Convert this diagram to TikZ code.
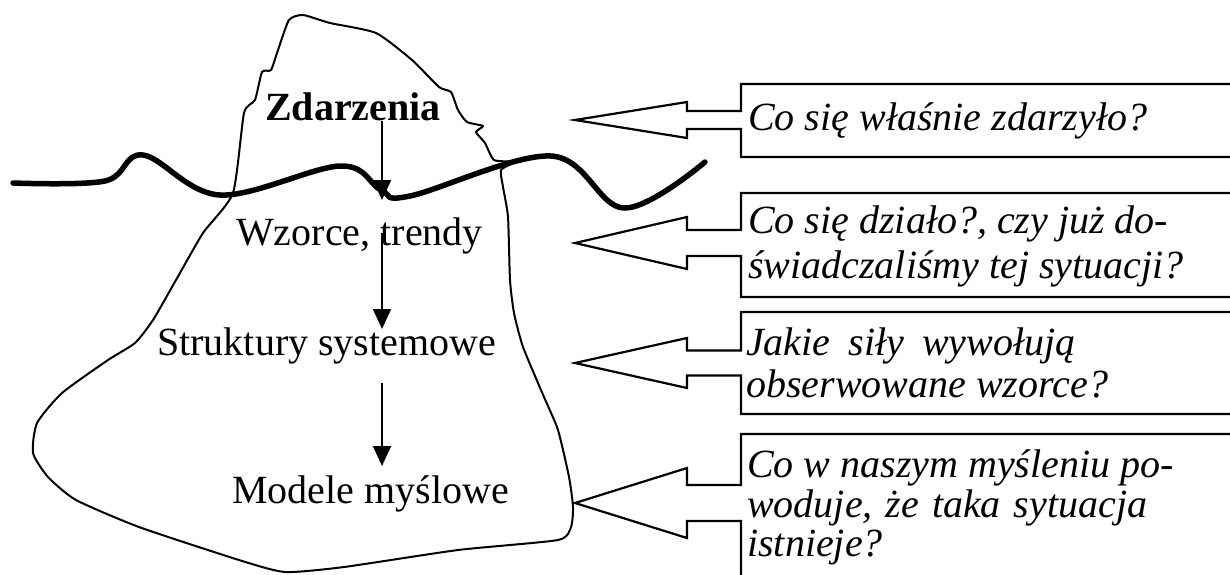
\documentclass[tikz,border=0pt]{standalone}
\usepackage{fontspec}
\setmainfont{Liberation Serif}
\usetikzlibrary{arrows.meta}

% Callout box with a hollow arrow pointing left.
% #1 tip name, #2 tip y, #3 head half-height, #4 shaft half-height, #5 box top, #6 box bottom
\newcommand\questionbox[6]{%
  \coordinate (#1) at (575,#2);
  \draw[callout] (1250,#5) -- (741,#5) -- (741,{#2-#4}) -- (687,{#2-#4})
    -- (687,{#2-#3}) -- (#1) -- (687,{#2+#3}) -- (687,{#2+#4})
    -- (741,{#2+#4}) -- (741,#6) -- (1250,#6);
}

\begin{document}
\begin{tikzpicture}[x=1pt,y=-1pt,
  outline/.style={line width=2pt, line join=round},
  wave/.style={line width=5.5pt, line cap=round, line join=round},
  flow/.style={line width=2pt, -{Triangle[length=20pt,width=18pt]}},
  callout/.style={line width=2.2pt, line join=miter},
  label/.style={inner sep=0pt, anchor=base west, font=\fontsize{40}{44}\selectfont},
  question/.style={inner sep=0pt, anchor=base west, font=\fontsize{40}{44}\selectfont\itshape},
]
\useasboundingbox (0,0) rectangle (1230,574);
\clip (0,0) rectangle (1230,574);

% iceberg outline
\draw[outline] plot[smooth cycle, tension=0.35] coordinates {
  (289,20) (303,15) (330,23) (376,33) (412,60) (439,87) (451,92) (458,110)
  (467,122) (483,126) (476,132) (485,143) (494,160) (514,162) (501,170)
  (503,187) (508,217) (510,280) (514,313) (523,347) (544,397) (558,430)
  (569,477) (573,507) (571,527) (558,540) (458,550) (344,567) (285,572)
  (239,560) (139,527) (76,500) (48,477) (33,453) (37,423) (62,393)
  (108,360) (135,343) (153,320) (176,280) (203,233) (233,193) (244,113)
  (255,100) (262,72) (271,70) (278,50)};

% waterline
\draw[wave] plot[smooth, tension=0.6] coordinates {
  (13,183) (105,181) (143,155) (220,195) (340,166) (381,190) (410,196)
  (551,156) (624,208) (705,162)};

% levels of the iceberg
\node[label, font=\fontsize{40}{44}\selectfont\bfseries] (zd) at (265,120) {Zdarzenia};
\node[label] (wz) at (236,245) {Wzorce, trendy};
\node[label] (st) at (157,355) {Struktury systemowe};
\node[label] (mm) at (232,503) {Modele myślowe};

% downward flow between levels
\coordinate (d1) at (382,200);
\coordinate (u2) at (382,233);
\coordinate (d2) at (382,329);
\coordinate (u3) at (382,383);
\coordinate (d3) at (382,466);
\draw[flow] (zd.south -| d1) -- (d1);
\draw[flow] (u2) -- (d2);
\draw[flow] (u3) -- (d3);

% question callouts
\questionbox{t1}{120}{18}{9}{84}{157}
\questionbox{t2}{243}{26}{13}{193}{297}
\questionbox{t3}{363}{25}{12.5}{312}{414}
\questionbox{t4}{503}{35}{18}{434}{600}

\node[question] (q1)  at (748,130) {Co się właśnie zdarzyło?};
\node[question] (q2a) at (748,233) {Co się działo?, czy już do-};
\node[question] (q2b) at (748,278) {świadczaliśmy tej sytuacji?};
\node[question] (q3a) at (746,355) {\spaceskip=18pt Jakie siły wywołują};
\node[question] (q3b) at (746,397) {obserwowane wzorce?};
\node[question] (q4a) at (747,477) {Co w naszym myśleniu po-};
\node[question] (q4b) at (747,517) {\spaceskip=13pt woduje, że taka sytuacja};
\node[question] (q4c) at (747,556) {istnieje?};
\end{tikzpicture}
\end{document}
